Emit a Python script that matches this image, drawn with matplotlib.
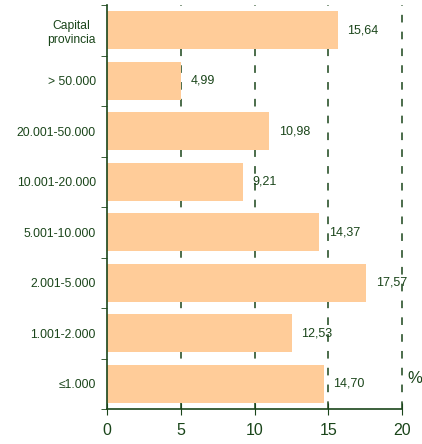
import matplotlib.pyplot as plt
from matplotlib.ticker import FixedLocator

# data (top to bottom)
categories = ["Capital\nprovincia", "> 50.000", "20.001-50.000", "10.001-20.000",
              "5.001-10.000", "2.001-5.000", "1.001-2.000", "≤1.000"]
values = [15.64, 4.99, 10.98, 9.21, 14.37, 17.57, 12.53, 14.70]
value_labels = ["15,64", "4,99", "10,98", "9,21", "14,37", "17,57", "12,53", "14,70"]
x_ticks = [0, 5, 10, 15, 20]

green = "#1a451a"
bar_color = "#FFCC99"

plt.rcParams['font.family'] = ['Liberation Sans', 'DejaVu Sans']

fig = plt.figure(figsize=(4.22, 4.44), dpi=100)
ax = fig.add_axes([0.2536, 0.0788, 0.6990, 0.9099])

pos = list(range(len(categories)))
ax.barh(pos, values, height=0.75, color=bar_color, zorder=2)

for p, v, lab in zip(pos, values, value_labels):
    ax.annotate(lab, (v, p), xytext=(7, 0), textcoords="offset points",
                va="center", ha="left", fontsize=9, color=green)

ax.set_xlim(0, 20)
ax.set_ylim(7.5, -0.5)
ax.set_xticks(x_ticks)
ax.set_yticks(pos)
ax.set_yticklabels(categories, fontsize=8.7, color=green, ha="right",
                   multialignment="center")
ax.yaxis.set_minor_locator(FixedLocator([p - 0.5 for p in pos] + [7.5]))
ax.tick_params(axis="y", which="major", length=0, pad=8)
ax.tick_params(axis="y", which="minor", length=4, color=green, direction="out")
ax.tick_params(axis="x", length=8, direction="inout", color=green,
               labelsize=11.5, labelcolor=green, pad=6)

for x in x_ticks[1:]:
    ax.axvline(x, color=green, linestyle=(0, (5, 6)), linewidth=1.1,
               zorder=1, clip_on=False)

for side in ["top", "right"]:
    ax.spines[side].set_visible(False)
for side in ["left", "bottom"]:
    ax.spines[side].set_color(green)
    ax.spines[side].set_linewidth(1.2)

ax.text(20.35, 6.9, "%", fontsize=12, color=green, ha="left", va="center")

fig.savefig("out.png", dpi=100)
